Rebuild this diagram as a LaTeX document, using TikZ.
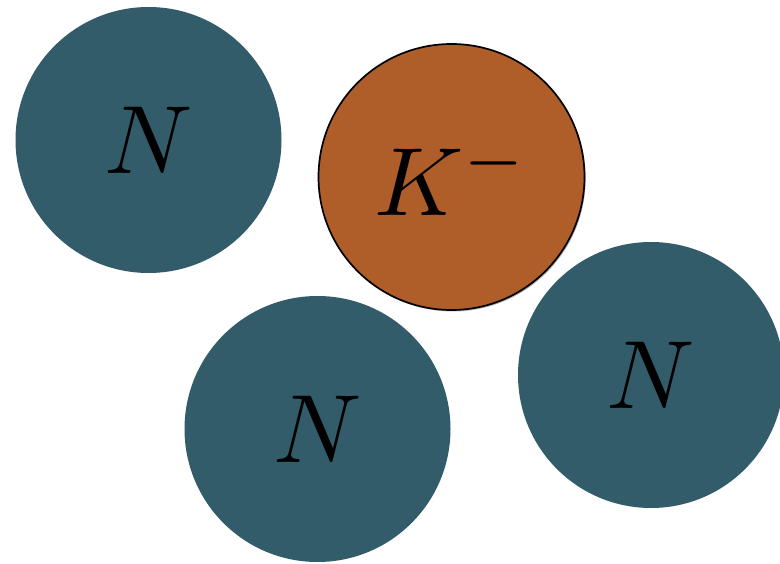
\documentclass[tikz,border=0pt]{standalone}
\usepackage{graphicx}
\usetikzlibrary{shadows}
\definecolor{nucteal}{HTML}{335C6A}
\definecolor{kaonorange}{HTML}{B05E29}
\newcommand{\bigsym}[1]{\scalebox{9.7}{$#1$}}
\begin{document}
\begin{tikzpicture}[x=1pt,y=-1pt,
  ball/.style={circle, minimum size=266pt, inner sep=0pt},
  nuc/.style={ball, fill=nucteal},
  kaon/.style={ball, fill=kaonorange, draw=black, line width=1.7pt,
    drop shadow={shadow xshift=1.2pt, shadow yshift=-1.5pt, opacity=0.3, fill=black}}]
\useasboundingbox (0,0) rectangle (780,564);
\clip (0,0) rectangle (780,564);
\node[nuc] (n1) at (148.5,140) {\bigsym{N}};
\node[kaon] (k) at (451.5,177) {\bigsym{K^-}};
\node[nuc] (n2) at (317.5,429) {\bigsym{N}};
\node[nuc] (n3) at (651,375) {\bigsym{N}};
\end{tikzpicture}
\end{document}
